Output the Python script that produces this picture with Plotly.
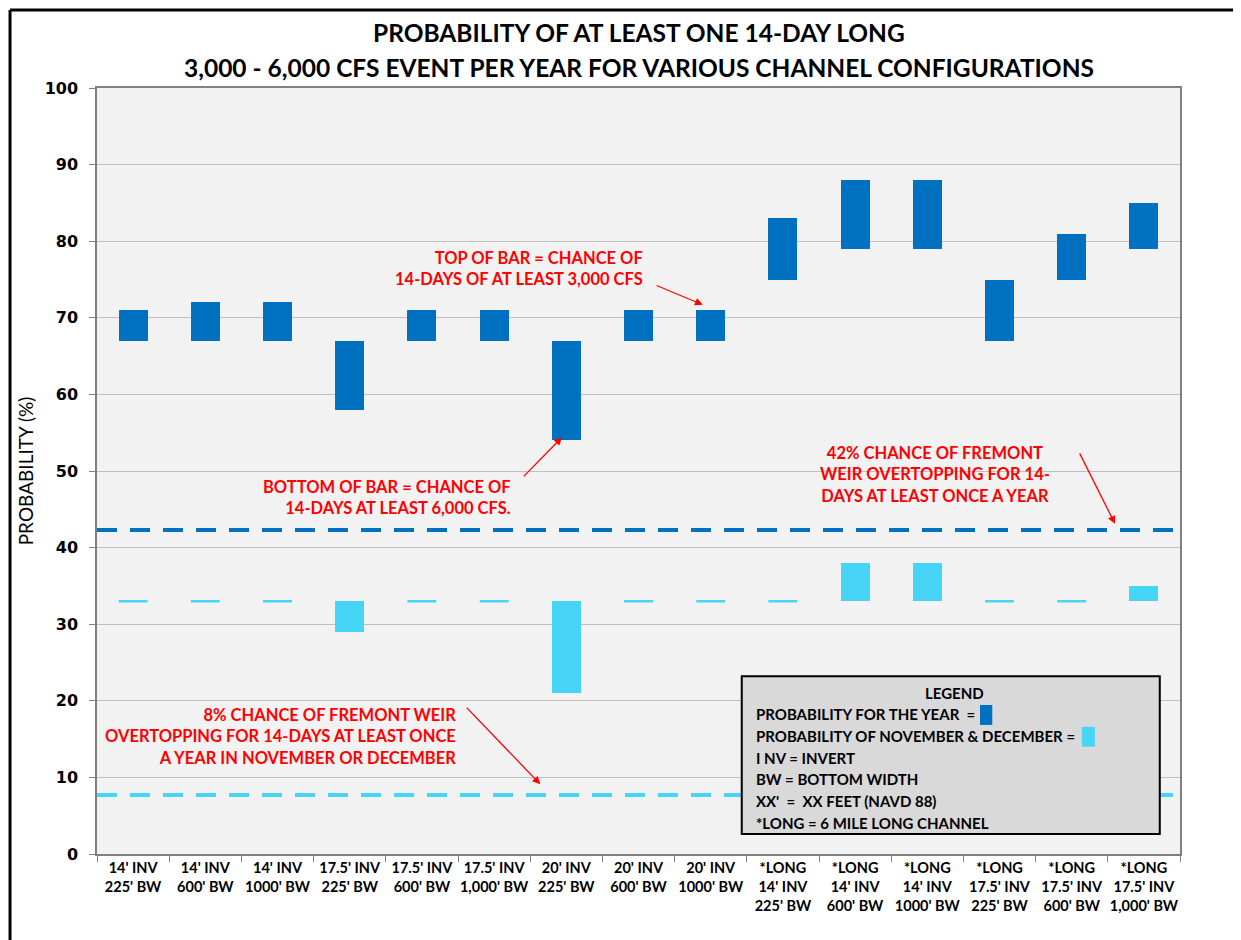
import plotly.graph_objects as go

# channel configurations (x categories)
configs = [
    "14' INV<br>225' BW", "14' INV<br>600' BW", "14' INV<br>1000' BW",
    "17.5' INV<br>225' BW", "17.5' INV<br>600' BW", "17.5' INV<br>1,000' BW",
    "20' INV<br>225' BW", "20' INV<br>600' BW", "20' INV<br>1000' BW",
    "*LONG<br>14' INV<br>225' BW", "*LONG<br>14' INV<br>600' BW", "*LONG<br>14' INV<br>1000' BW",
    "*LONG<br>17.5' INV<br>225' BW", "*LONG<br>17.5' INV<br>600' BW", "*LONG<br>17.5' INV<br>1,000' BW",
]

# probability for the year: top = 3,000 cfs, bottom = 6,000 cfs
year_top = [71, 72, 72, 67, 71, 71, 67, 71, 71, 83, 88, 88, 75, 81, 85]
year_bottom = [67, 67, 67, 58, 67, 67, 54, 67, 67, 75, 79, 79, 67, 75, 79]

# probability for november & december
novdec_top = [33, 33, 33, 33, 33, 33, 33, 33, 33, 33, 38, 38, 33, 33, 35]
novdec_bottom = [33, 33, 33, 29, 33, 33, 21, 33, 33, 33, 33, 33, 33, 33, 33]

# fremont weir overtopping reference lines
weir_year = 42.3
weir_novdec = 7.7

YEAR_COLOUR = "#0070C0"
NOVDEC_COLOUR = "#46D5F7"
RED = "#FF0000"
BAR_W = 0.4

xs = list(range(len(configs)))

fig = go.Figure()

fig.add_trace(go.Bar(
    x=xs,
    y=[t - b for t, b in zip(year_top, year_bottom)],
    base=year_bottom,
    width=BAR_W,
    marker=dict(color=YEAR_COLOUR, line=dict(width=0)),
    showlegend=False,
))
fig.add_trace(go.Bar(
    x=xs,
    y=[t - b for t, b in zip(novdec_top, novdec_bottom)],
    base=novdec_bottom,
    width=BAR_W,
    marker=dict(color=NOVDEC_COLOUR, line=dict(width=0)),
    showlegend=False,
))

# zero-height nov/dec bars show up as a thin line
seg_x, seg_y = [], []
for i, (t, b) in enumerate(zip(novdec_top, novdec_bottom)):
    if t == b:
        seg_x += [i - BAR_W / 2, i + BAR_W / 2, None]
        seg_y += [b, b, None]
fig.add_trace(go.Scatter(
    x=seg_x, y=seg_y, mode="lines",
    line=dict(color=NOVDEC_COLOUR, width=2.5),
    showlegend=False, hoverinfo="skip",
))

# dashed weir lines
for val, col in [(weir_year, YEAR_COLOUR), (weir_novdec, NOVDEC_COLOUR)]:
    fig.add_shape(
        type="line", xref="paper", yref="y",
        x0=0, x1=1, y0=val, y1=val,
        line=dict(color=col, width=4, dash="20px,13px"),
        layer="above",
    )

# legend box
fig.add_shape(
    type="rect", xref="x", yref="y",
    x0=8.43, x1=14.22, y0=2.6, y1=23.2,
    fillcolor="#D9D9D9", line=dict(color="black", width=2),
    layer="above",
)
fig.add_shape(type="rect", xref="x", yref="y", x0=11.73, x1=11.9, y0=16.85, y1=19.45,
              fillcolor=YEAR_COLOUR, line=dict(width=0), layer="above")
fig.add_shape(type="rect", xref="x", yref="y", x0=13.14, x1=13.32, y0=14.0, y1=16.6,
              fillcolor=NOVDEC_COLOUR, line=dict(width=0), layer="above")

# outer frame: only left and top edges are visible
fig.add_shape(type="line", xref="paper", yref="paper",
              x0=-0.0803, x1=1.4, y0=1.1018, y1=1.1018,
              line=dict(color="black", width=3))
fig.add_shape(type="line", xref="paper", yref="paper",
              x0=-0.0803, x1=-0.0803, y0=-0.4, y1=1.1018,
              line=dict(color="black", width=3))

bold = dict(family="Lato", weight="bold")

fig.add_annotation(text="LEGEND", x=11.38, y=21.0, xref="x", yref="y",
                   showarrow=False, font=dict(**bold, size=15, color="black"))
legend_lines = [
    ("PROBABILITY FOR THE YEAR  =", 18.3),
    ("PROBABILITY OF NOVEMBER & DECEMBER =", 15.4),
    ("I NV = INVERT", 12.5),
    ("BW = BOTTOM WIDTH", 9.8),
    ("XX'  =  XX FEET (NAVD 88)", 6.9),
    ("*LONG = 6 MILE LONG CHANNEL", 4.0),
]
for txt, yy in legend_lines:
    fig.add_annotation(text=txt, x=8.6, y=yy, xref="x", yref="y", xanchor="left",
                       showarrow=False, font=dict(**bold, size=15, color="black"))

# red notes
notes = [
    ("TOP OF BAR = CHANCE OF<br>14-DAYS OF AT LEAST 3,000 CFS", 7.09, 76.5, "right", "right"),
    ("BOTTOM OF BAR = CHANCE OF<br>14-DAYS AT LEAST 6,000 CFS.", 5.26, 46.5, "right", "right"),
    ("42% CHANCE OF FREMONT<br>WEIR OVERTOPPING FOR 14-<br>DAYS AT LEAST ONCE A YEAR", 11.1, 49.5, "center", "center"),
    ("8% CHANCE OF FREMONT WEIR<br>OVERTOPPING FOR 14-DAYS AT LEAST ONCE<br>A YEAR IN NOVEMBER OR DECEMBER", 4.5, 15.4, "right", "right"),
]
for txt, xx, yy, anchor, align in notes:
    fig.add_annotation(text=txt, x=xx, y=yy, xref="x", yref="y", xanchor=anchor, align=align,
                       showarrow=False, font=dict(**bold, size=16.5, color=RED))

arrows = [
    ((7.23, 74.3), (7.89, 71.7)),
    ((5.39, 49.1), (5.94, 54.4)),
    ((13.1, 52.5), (13.6, 43.1)),
    ((4.6, 19.3), (5.64, 9.1)),
]
for (tx, ty), (hx, hy) in arrows:
    fig.add_annotation(
        text="", x=hx, y=hy, ax=tx, ay=ty,
        xref="x", yref="y", axref="x", ayref="y",
        showarrow=True, arrowhead=2, arrowsize=1.2, arrowwidth=1.3, arrowcolor=RED,
    )

# title
fig.add_annotation(text="PROBABILITY OF AT LEAST ONE 14-DAY LONG", x=0.5, y=1.0731,
                   xref="paper", yref="paper", yanchor="middle", showarrow=False,
                   font=dict(**bold, size=24.5, color="black"))
fig.add_annotation(text="3,000 - 6,000 CFS EVENT PER YEAR FOR VARIOUS CHANNEL CONFIGURATIONS",
                   x=0.5, y=1.0274, xref="paper", yref="paper", yanchor="middle", showarrow=False,
                   font=dict(**bold, size=24.5, color="black"))

fig.update_layout(
    width=1233,
    height=932,
    margin=dict(l=89, r=61, t=80, b=86),
    plot_bgcolor="#F2F2F2",
    paper_bgcolor="white",
    barmode="overlay",
    bargap=0,
    showlegend=False,
    xaxis=dict(
        range=[-0.5, len(configs) - 0.5],
        tickmode="array", tickvals=xs, ticktext=configs,
        ticks="", showgrid=False, zeroline=False,
        showline=True, linecolor="#808080", linewidth=1.5, mirror=True,
        tickfont=dict(**bold, size=14.5, color="black"),
        minor=dict(ticks="outside", tick0=0.5, dtick=1, ticklen=6,
                   tickcolor="#808080", showgrid=False),
    ),
    yaxis=dict(
        range=[0, 100], dtick=10,
        showgrid=True, gridcolor="#BFBFBF", gridwidth=1, zeroline=False,
        showline=True, linecolor="#808080", linewidth=1.5, mirror=True,
        ticks="outside", ticklen=6, tickcolor="#808080",
        ticklabelstandoff=8,
        tickfont=dict(family="DejaVu Sans", weight="bold", size=16, color="black"),
        title=dict(text="PROBABILITY (%)", standoff=6,
                   font=dict(family="Lato", size=19, color="black")),
    ),
)

fig.write_html("out.html")
